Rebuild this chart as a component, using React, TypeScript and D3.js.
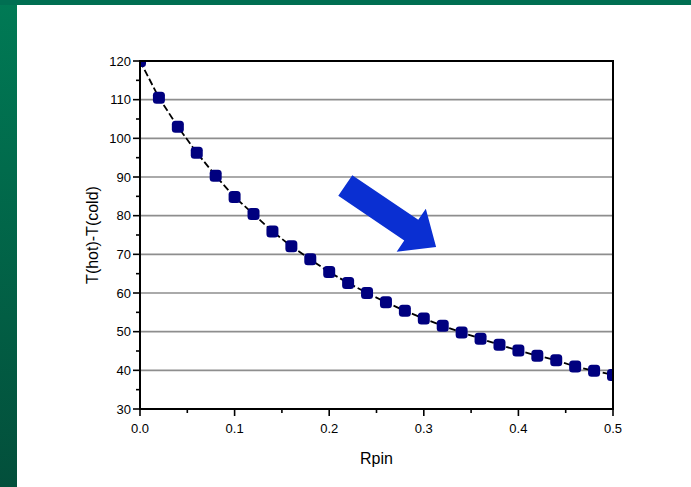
import React from "react";
import * as d3 from "d3";

// Temperature difference across the pin vs. pin thermal resistance
const rpin: number[] = [
  0, 0.02, 0.04, 0.06, 0.08, 0.1, 0.12, 0.14, 0.16, 0.18, 0.2, 0.22, 0.24,
  0.26, 0.28, 0.3, 0.32, 0.34, 0.36, 0.38, 0.4, 0.42, 0.44, 0.46, 0.48, 0.5,
];
const deltaT: number[] = [
  120, 110.5, 103, 96.3, 90.3, 84.8, 80.4, 75.9, 72.1, 68.7, 65.4, 62.6, 60.0,
  57.6, 55.4, 53.4, 51.5, 49.8, 48.2, 46.6, 45.1, 43.8, 42.6, 41.0, 39.9, 38.8,
];
const xTicks: number[] = [0, 0.1, 0.2, 0.3, 0.4, 0.5];
const xMinorTicks: number[] = [0.05, 0.15, 0.25, 0.35, 0.45];
const yTicks: number[] = [30, 40, 50, 60, 70, 80, 90, 100, 110, 120];
const yMinorTicks: number[] = [35, 45, 55, 65, 75, 85, 95, 105, 115];
const xTitle = "Rpin";
const yTitle = "T(hot)-T(cold)";
// Trend arrow, from tail centre to tip, in data units
const arrowFrom: [number, number] = [0.217, 87.8];
const arrowTo: [number, number] = [0.313, 71.9];

const W = 691;
const H = 487;
const plot = { left: 140, right: 613, top: 61, bottom: 409 };

export default function App() {
  const x = d3.scaleLinear().domain([0, 0.5]).range([plot.left, plot.right]);
  const y = d3.scaleLinear().domain([30, 120]).range([plot.bottom, plot.top]);
  const pts = rpin.map((r, i) => [r, deltaT[i]] as [number, number]);
  const line = d3
    .line<[number, number]>()
    .x((d) => x(d[0]))
    .y((d) => y(d[1]));

  // block arrow polygon
  const ax0 = x(arrowFrom[0]);
  const ay0 = y(arrowFrom[1]);
  const ax1 = x(arrowTo[0]);
  const ay1 = y(arrowTo[1]);
  const len = Math.hypot(ax1 - ax0, ay1 - ay0);
  const ux = (ax1 - ax0) / len;
  const uy = (ay1 - ay0) / len;
  const px = -uy;
  const py = ux;
  const shaftHalf = 12.5;
  const headHalf = 26;
  const headLen = 30;
  const bx = ax1 - ux * headLen;
  const by = ay1 - uy * headLen;
  const arrowPts = [
    [ax0 + px * shaftHalf, ay0 + py * shaftHalf],
    [bx + px * shaftHalf, by + py * shaftHalf],
    [bx + px * headHalf, by + py * headHalf],
    [ax1, ay1],
    [bx - px * headHalf, by - py * headHalf],
    [bx - px * shaftHalf, by - py * shaftHalf],
    [ax0 - px * shaftHalf, ay0 - py * shaftHalf],
  ]
    .map((p) => p.join(","))
    .join(" ");

  const font = "'Liberation Sans', Arial, sans-serif";
  const ms = 12;

  return (
    <svg
      width={W}
      height={H}
      style={{ position: "fixed", left: 0, top: 0, display: "block" }}
      fontFamily={font}
    >
      <defs>
        <linearGradient id="bg" x1="0" y1="0" x2="0" y2="1">
          <stop offset="0" stopColor="#007a55" />
          <stop offset="1" stopColor="#034f3b" />
        </linearGradient>
        <clipPath id="plotClip">
          <rect
            x={plot.left}
            y={plot.top}
            width={plot.right - plot.left}
            height={plot.bottom - plot.top}
          />
        </clipPath>
      </defs>
      <rect x={0} y={0} width={W} height={H} fill="url(#bg)" />
      <rect x={0} y={0} width={W} height={5} fill="#006f52" />
      <rect x={17} y={5} width={W - 17} height={H - 5} fill="#ffffff" />

      {/* grid */}
      {yTicks.slice(1, -1).map((t) => (
        <line
          key={"g" + t}
          x1={plot.left}
          x2={plot.right}
          y1={y(t)}
          y2={y(t)}
          stroke="#8e8e8e"
          strokeWidth={1.6}
        />
      ))}

      {/* series */}
      <g clipPath="url(#plotClip)">
        <path
          d={line(pts) ?? ""}
          fill="none"
          stroke="#000"
          strokeWidth={1.8}
          strokeDasharray="7 3"
        />
        {pts.map((d, i) => (
          <rect
            key={i}
            x={x(d[0]) - ms / 2}
            y={y(d[1]) - ms / 2}
            width={ms}
            height={ms}
            rx={3.5}
            fill="#00007f"
          />
        ))}
      </g>

      {/* frame */}
      <rect
        x={plot.left}
        y={plot.top}
        width={plot.right - plot.left}
        height={plot.bottom - plot.top}
        fill="none"
        stroke="#000"
        strokeWidth={2}
      />

      {/* y axis ticks */}
      {yTicks.map((t) => (
        <g key={"y" + t}>
          <line x1={plot.left - 7} x2={plot.left} y1={y(t)} y2={y(t)} stroke="#000" strokeWidth={1.6} />
          <text x={plot.left - 9} y={y(t) + 4.5} textAnchor="end" fontSize={13} fill="#000">
            {t}
          </text>
        </g>
      ))}
      {yMinorTicks.map((t) => (
        <line key={"ym" + t} x1={plot.left - 4} x2={plot.left} y1={y(t)} y2={y(t)} stroke="#000" strokeWidth={1.6} />
      ))}

      {/* x axis ticks */}
      {xTicks.map((t) => (
        <g key={"x" + t}>
          <line x1={x(t)} x2={x(t)} y1={plot.bottom} y2={plot.bottom + 7} stroke="#000" strokeWidth={1.6} />
          <text x={x(t)} y={plot.bottom + 24} textAnchor="middle" fontSize={13} fill="#000">
            {d3.format(".1f")(t)}
          </text>
        </g>
      ))}
      {xMinorTicks.map((t) => (
        <line key={"xm" + t} x1={x(t)} x2={x(t)} y1={plot.bottom} y2={plot.bottom + 4} stroke="#000" strokeWidth={1.6} />
      ))}

      {/* titles */}
      <text x={(plot.left + plot.right) / 2} y={464} textAnchor="middle" fontSize={16} fill="#000">
        {xTitle}
      </text>
      <text
        transform={`translate(98, ${(plot.top + plot.bottom) / 2}) rotate(-90)`}
        textAnchor="middle"
        fontSize={16}
        fill="#000"
      >
        {yTitle}
      </text>

      {/* trend arrow */}
      <polygon points={arrowPts} fill="#0a2fd2" />
    </svg>
  );
}
